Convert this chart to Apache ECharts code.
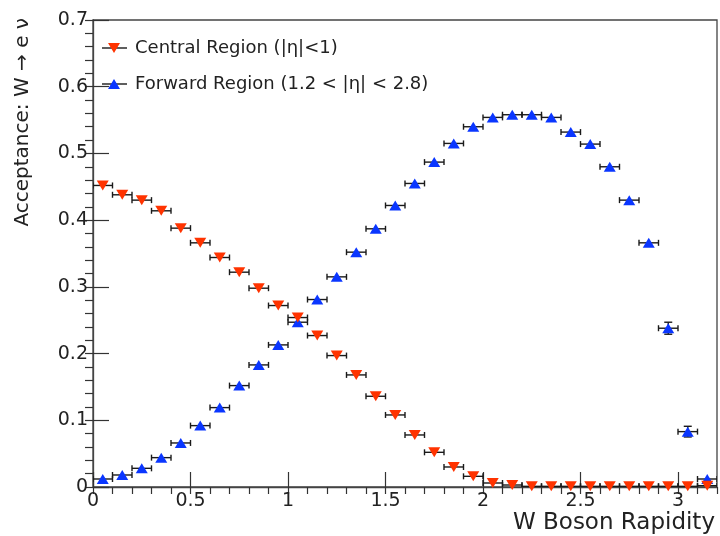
<!DOCTYPE html>
<html>
<head>
<meta charset="utf-8">
<script src="https://cdn.jsdelivr.net/npm/echarts@6/dist/echarts.min.js"></script>
<style>
  html, body { margin: 0; padding: 0; background: #fff; }
  #chart { width: 720px; height: 536px; }
</style>
</head>
<body>
<div id="chart"></div>
<script>
// bin centres of W rapidity (bin width 0.1)
const binCenters = [0.05, 0.15, 0.25, 0.35, 0.45, 0.55, 0.65, 0.75, 0.85, 0.95,
  1.05, 1.15, 1.25, 1.35, 1.45, 1.55, 1.65, 1.75, 1.85, 1.95,
  2.05, 2.15, 2.25, 2.35, 2.45, 2.55, 2.65, 2.75, 2.85, 2.95,
  3.05, 3.15];
const binHalfWidth = 0.05;

const centralAcc = [0.452, 0.438, 0.430, 0.414, 0.388, 0.366, 0.344, 0.322, 0.298, 0.272,
  0.254, 0.227, 0.197, 0.168, 0.136, 0.108, 0.078, 0.052, 0.030, 0.016,
  0.006, 0.003, 0.001, 0.001, 0.001, 0.001, 0.001, 0.001, 0.001, 0.001,
  0.001, 0.002];
const centralErr = [0.002, 0.002, 0.002, 0.002, 0.002, 0.002, 0.002, 0.002, 0.002, 0.002,
  0.002, 0.002, 0.002, 0.002, 0.002, 0.002, 0.002, 0.002, 0.001, 0.001,
  0.001, 0.001, 0.001, 0.001, 0.001, 0.001, 0.001, 0.001, 0.001, 0.001,
  0.001, 0.001];

const forwardAcc = [0.012, 0.018, 0.028, 0.044, 0.066, 0.092, 0.119, 0.152, 0.183, 0.213,
  0.247, 0.281, 0.315, 0.352, 0.387, 0.422, 0.455, 0.487, 0.515, 0.540,
  0.554, 0.558, 0.558, 0.554, 0.532, 0.514, 0.480, 0.430, 0.366, 0.238,
  0.083, 0.012];
const forwardErr = [0.001, 0.001, 0.001, 0.001, 0.002, 0.002, 0.002, 0.002, 0.002, 0.002,
  0.002, 0.002, 0.002, 0.002, 0.002, 0.002, 0.002, 0.002, 0.002, 0.002,
  0.002, 0.002, 0.002, 0.002, 0.002, 0.002, 0.003, 0.003, 0.005, 0.009,
  0.008, 0.003];

const xTicks = [0, 0.5, 1, 1.5, 2, 2.5, 3];
const yTicks = [0, 0.1, 0.2, 0.3, 0.4, 0.5, 0.6, 0.7];

const RED = '#ff3300';
const BLUE = '#0a36ff';
const FONT = 'DejaVu Sans';

var myChart = echarts.init(document.getElementById('chart'));

// horizontal bin-width bars + vertical stat errors, drawn through the axes
function errorSeries(xs, ys, errs) {
  return {
    type: 'custom',
    z: 2,
    clip: true,
    silent: true,
    data: xs.map((x, i) => [x, ys[i], errs[i]]),
    renderItem: (params, api) => {
      var x = api.value(0), y = api.value(1), e = api.value(2);
      var l = api.coord([x - binHalfWidth, y]);
      var r = api.coord([x + binHalfWidth, y]);
      var t = api.coord([x, y + e]);
      var b = api.coord([x, y - e]);
      var st = { stroke: '#1a1a1a', lineWidth: 1.4 };
      var kids = [
        { type: 'line', shape: { x1: l[0], y1: l[1], x2: r[0], y2: r[1] }, style: st },
        { type: 'line', shape: { x1: l[0], y1: l[1] - 3, x2: l[0], y2: l[1] + 3 }, style: st },
        { type: 'line', shape: { x1: r[0], y1: r[1] - 3, x2: r[0], y2: r[1] + 3 }, style: st }
      ];
      if (b[1] - t[1] > 8) {
        kids.push({ type: 'line', shape: { x1: t[0], y1: t[1], x2: b[0], y2: b[1] }, style: st });
        kids.push({ type: 'line', shape: { x1: t[0] - 4, y1: t[1], x2: t[0] + 4, y2: t[1] }, style: st });
        kids.push({ type: 'line', shape: { x1: b[0] - 4, y1: b[1], x2: b[0] + 4, y2: b[1] }, style: st });
      }
      return { type: 'group', children: kids };
    }
  };
}

var axisCommon = {
  type: 'value',
  splitLine: { show: false },
  axisLine: { show: true, lineStyle: { color: '#444', width: 1.3 } }
};

var option = {
  backgroundColor: '#fff',
  animation: false,
  grid: {
    left: 93, right: 3, top: 20, bottom: 49,
    show: true, borderColor: '#444', borderWidth: 1.3, backgroundColor: 'transparent'
  },
  xAxis: [
    Object.assign({}, axisCommon, {
      min: 0, max: 3.2, interval: 0.5,
      axisTick: { show: true, inside: true, length: 15, lineStyle: { color: '#333', width: 1.2 } },
      axisLabel: {
        show: true, margin: 5, fontSize: 19, fontFamily: FONT, color: '#222',
        showMaxLabel: false,
        formatter: v => (xTicks.indexOf(+v.toFixed(2)) >= 0 ? String(+v.toFixed(2)) : '')
      }
    }),
    Object.assign({}, axisCommon, {
      min: 0, max: 3.2, interval: 0.1,
      axisLine: { show: false },
      axisTick: { show: true, inside: true, length: 7, lineStyle: { color: '#333', width: 1.2 } },
      axisLabel: { show: false }
    })
  ],
  yAxis: [
    Object.assign({}, axisCommon, {
      min: 0, max: 0.7, interval: 0.1,
      axisTick: { show: true, inside: true, length: 16, lineStyle: { color: '#333', width: 1.2 } },
      axisLabel: {
        show: true, margin: 5, fontSize: 19, fontFamily: FONT, color: '#222',
        formatter: v => (yTicks.indexOf(+v.toFixed(2)) >= 0 ? String(+v.toFixed(2)) : '')
      }
    }),
    Object.assign({}, axisCommon, {
      min: 0, max: 0.7, interval: 0.02,
      axisLine: { show: false },
      axisTick: { show: true, inside: true, length: 8, lineStyle: { color: '#333', width: 1.2 } },
      axisLabel: { show: false }
    })
  ],
  series: [
    errorSeries(binCenters, forwardAcc, forwardErr),
    errorSeries(binCenters, centralAcc, centralErr),
    {
      name: 'Forward Region (1.2 < |η| < 2.8)',
      type: 'scatter',
      z: 3,
      symbol: 'triangle',
      symbolSize: [12, 10],
      itemStyle: { color: BLUE, opacity: 1 },
      data: binCenters.map((x, i) => [x, forwardAcc[i]])
    },
    {
      name: 'Central Region (|η|<1)',
      type: 'scatter',
      z: 4,
      symbol: 'triangle',
      symbolRotate: 180,
      symbolSize: [12, 10],
      itemStyle: { color: RED, opacity: 1 },
      data: binCenters.map((x, i) => [x, centralAcc[i]])
    }
  ],
  graphic: [
    // legend
    { type: 'line', shape: { x1: 102, y1: 48, x2: 127, y2: 48 }, style: { stroke: '#1a1a1a', lineWidth: 1.4 } },
    { type: 'polygon', shape: { points: [[108, 43], [120, 43], [114, 53]] }, style: { fill: RED } },
    { type: 'text', x: 135, y: 48, style: { text: 'Central Region (|η|<1)', fontSize: 18, fontFamily: FONT, fill: '#222', verticalAlign: 'middle' } },
    { type: 'line', shape: { x1: 102, y1: 84, x2: 127, y2: 84 }, style: { stroke: '#1a1a1a', lineWidth: 1.4 } },
    { type: 'polygon', shape: { points: [[108, 89], [120, 89], [114, 79]] }, style: { fill: BLUE } },
    { type: 'text', x: 135, y: 84, style: { text: 'Forward Region (1.2 < |η| < 2.8)', fontSize: 18, fontFamily: FONT, fill: '#222', verticalAlign: 'middle' } },
    // axis titles
    { type: 'text', x: 715, y: 523, style: { text: 'W Boson Rapidity', fontSize: 23, fontFamily: FONT, fill: '#222', align: 'right', verticalAlign: 'middle' } },
    { type: 'text', x: 23, y: 18, rotation: Math.PI / 2, style: { text: 'Acceptance: W → e ν', fontSize: 20, fontFamily: FONT, fill: '#222', align: 'right', verticalAlign: 'middle' } }
  ]
};

myChart.setOption(option);
</script>
</body>
</html>
